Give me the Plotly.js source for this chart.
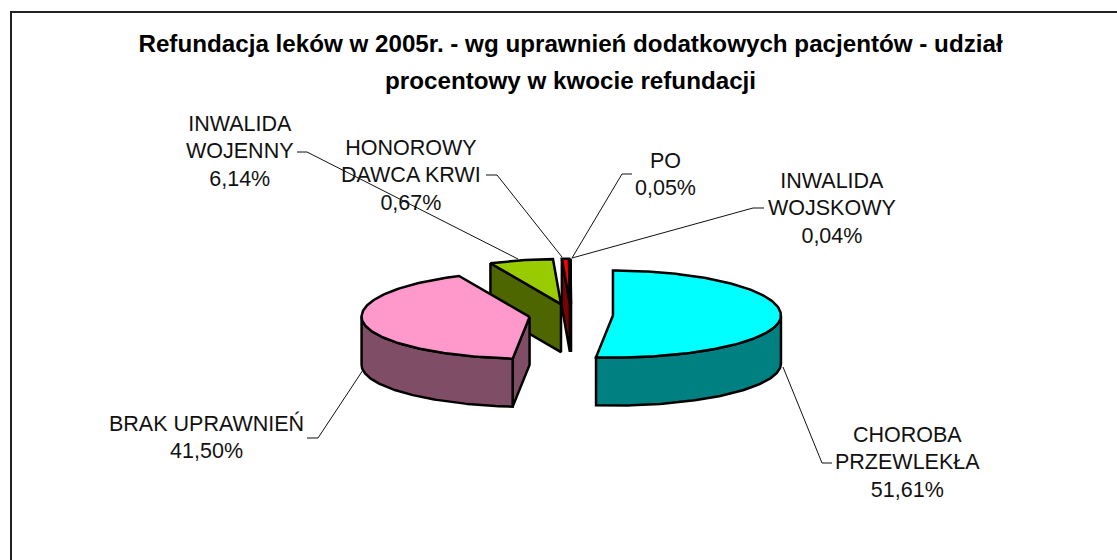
<!DOCTYPE html>
<html>
<head>
<meta charset="utf-8">
<script src="https://cdn.plot.ly/plotly-3.0.1.min.js"></script>
<style>html,body{margin:0;padding:0;background:#fff;overflow:hidden}</style>
</head>
<body>
<div id="chart" style="width:1117px;height:560px"></div>
<script>
// ---- data ----
const categories = ["CHOROBA PRZEWLEKŁA", "BRAK UPRAWNIEŃ", "INWALIDA WOJENNY", "HONOROWY DAWCA KRWI", "PO", "INWALIDA WOJSKOWY"];
const shares = [51.61, 41.50, 6.14, 0.67, 0.05, 0.04];
const labelLines = [["CHOROBA", "PRZEWLEKŁA"], ["BRAK UPRAWNIEŃ"], ["INWALIDA", "WOJENNY"], ["HONOROWY", "DAWCA KRWI"], ["PO"], ["INWALIDA", "WOJSKOWY"]];
const titleLines = ["Refundacja leków w 2005r. - wg uprawnień dodatkowych pacjentów - udział", "procentowy w kwocie refundacji"];

// ---- styles and layout ----
const topColors = ["#00FFFF", "#FF99CC", "#99CC00", "#FF0000", "#FF0000", "#FF0000"];
const sideColors = ["#008080", "#804D66", "#4D6600", "#800000", "#800000", "#800000"];
const drawOrder = [2, 5, 4, 3, 1, 0];
const cx = 571, cy = 315, rx = 168, ryBack = 45, ryFront = 42, depth = 48, explode = 42;
const labelPos = [[907, 462], [206, 437], [240, 151], [411, 175], [665, 174], [832, 208]];
const leaders = [
  [[832, 463], [822, 463], [783, 367]],
  [[307, 438], [318, 438], [363, 370]],
  [[297, 152], [307, 152], [518, 259]],
  [[486, 175], [497, 175], [562, 257]],
  [[632, 174], [622, 174], [572, 258]],
  [[764, 208], [753, 208], [572, 258]]
];
const FONT = '"Liberation Sans", Arial, sans-serif';

const total = shares.reduce((a, b) => a + b, 0);
const fmt = v => v.toFixed(2).replace(".", ",") + "%";
let acc = 0;
const slices = shares.map(v => {
  const a0 = acc / total * 360; acc += v;
  const a1 = acc / total * 360;
  const mid = (a0 + a1) / 2 * Math.PI / 180;
  return { a0, a1, ox: cx + explode * Math.sin(mid), oy: cy - explode * (ryBack / rx) * Math.cos(mid) };
});
const pt = (s, deg, dz) => {
  const t = deg * Math.PI / 180, c = Math.cos(t);
  return [s.ox + rx * Math.sin(t), s.oy - (c > 0 ? ryBack : ryFront) * c + (dz || 0)];
};
const arc = (s, a, b, dz) => {
  const out = [], n = Math.max(2, Math.ceil(Math.abs(b - a)));
  for (let i = 0; i <= n; i++) out.push(pt(s, a + (b - a) * i / n, dz));
  return out;
};
const poly = (pts, fill, name) => ({
  type: "scatter", mode: "lines", x: pts.map(p => p[0]), y: pts.map(p => p[1]),
  fill: "toself", fillcolor: fill, line: { color: "#000", width: 2.5, shape: "linear" },
  hoverinfo: "text", text: name, showlegend: false
});

const traces = [];
leaders.forEach(l => traces.push({
  type: "scatter", mode: "lines", x: l.map(p => p[0]), y: l.map(p => p[1]),
  line: { color: "#111", width: 1 }, hoverinfo: "skip", showlegend: false
}));
drawOrder.forEach(i => {
  const s = slices[i], name = categories[i] + " " + fmt(shares[i]);
  const c = [s.ox, s.oy], cLow = [s.ox, s.oy + depth];
  if (s.a0 > 180) traces.push(poly([c, pt(s, s.a0), pt(s, s.a0, depth), cLow, c], sideColors[i], name));
  if (s.a1 < 180 && s.a1 > 0) traces.push(poly([c, pt(s, s.a1), pt(s, s.a1, depth), cLow, c], sideColors[i], name));
  const w0 = Math.max(s.a0, 90), w1 = Math.min(s.a1, 270);
  if (w1 > w0) {
    const up = arc(s, w0, w1, 0), low = arc(s, w1, w0, depth);
    traces.push(poly(up.concat(low, [up[0]]), sideColors[i], name));
  }
  traces.push(poly([c].concat(arc(s, s.a0, s.a1, 0), [c]), topColors[i], name));
});

const annotations = categories.map((cat, i) => ({
  xref: "x", yref: "y", x: labelPos[i][0], y: labelPos[i][1],
  xanchor: "center", yanchor: "middle", showarrow: false, align: "center",
  font: { family: FONT, size: 21, color: "#111" },
  text: labelLines[i].concat(fmt(shares[i])).map(t => '<span style="font-size:21.5px">' + t + '</span>').join("<br>")
}));

const layout = {
  width: 1117, height: 560, autosize: false,
  margin: { l: 0, r: 0, t: 0, b: 0 },
  paper_bgcolor: "#fff", plot_bgcolor: "#fff", showlegend: false,
  title: {
    text: titleLines.map(t => '<span style="font-size:24.2px">' + t + '</span>').join("<br>"),
    font: { family: FONT, size: 28.5, color: "#000", weight: 700 },
    x: 0.5108, xanchor: "center", y: 0.908, yref: "container", yanchor: "top", automargin: false
  },
  xaxis: { range: [0, 1117], visible: false, fixedrange: true },
  yaxis: { range: [560, 0], visible: false, fixedrange: true },
  shapes: [
    { type: "line", xref: "x", yref: "y", x0: 11, x1: 11, y0: 12, y1: 560, line: { color: "#222", width: 2 } },
    { type: "line", xref: "x", yref: "y", x0: 10, x1: 1117, y0: 12, y1: 12, line: { color: "#222", width: 2 } }
  ],
  annotations
};
Plotly.newPlot("chart", traces, layout, { displayModeBar: false, staticPlot: true });
</script>
</body>
</html>
